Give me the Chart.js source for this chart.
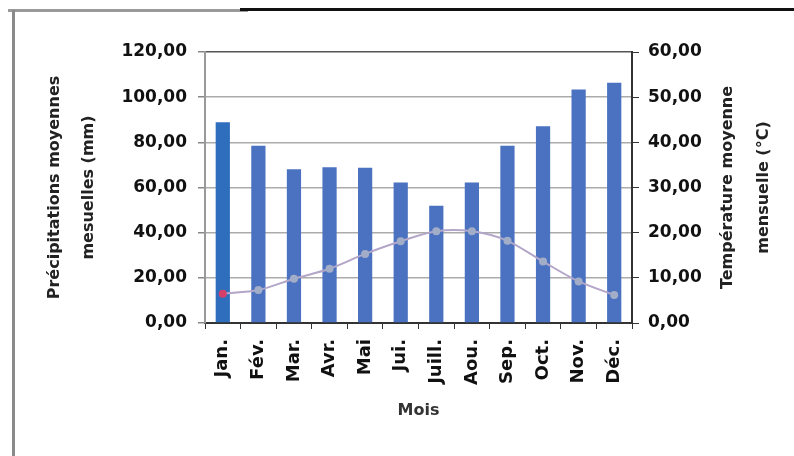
<!DOCTYPE html>
<html>
<head>
<meta charset="utf-8">
<script src="https://cdn.jsdelivr.net/npm/chart.js@4/dist/chart.umd.min.js"></script>
<style>
    html, body { margin: 0; padding: 0; background: #fff; }
    #wrap { position: relative; width: 794px; height: 456px; overflow: hidden; }
    #chart { position: absolute; left: 0; top: 0; }
    .frame { position: absolute; }
</style>
</head>
<body>
<div id="wrap">
    <canvas id="chart" width="794" height="456"></canvas>
    <div class="frame" style="left:8px;top:9px;width:240px;height:3px;background:#9a9a9a"></div>
    <div class="frame" style="left:240px;top:8px;width:554px;height:3px;background:#111"></div>
    <div class="frame" style="left:12px;top:10px;width:3px;height:446px;background:#8a8a8a"></div>
</div>
<script>
const months = ['Jan.', 'Fév.', 'Mar.', 'Avr.', 'Mai', 'Jui.', 'Juill.', 'Aou.', 'Sep.', 'Oct.', 'Nov.', 'Déc.'];
const precipitation = [88.9, 78.5, 68.1, 69.0, 68.8, 62.2, 51.9, 62.2, 78.5, 87.1, 103.4, 106.4];
const temperature = [6.5, 7.3, 9.8, 12.0, 15.3, 18.1, 20.3, 20.3, 18.2, 13.6, 9.2, 6.2];
const leftTitle = ['Précipitations moyennes', 'mesuelles (mm)'];
const rightTitle = ['Température moyenne', 'mensuelle (°C)'];
const xTitle = 'Mois';

const FONT = 'DejaVu Sans';

function fmt(v) {
    return Number(v).toFixed(2).replace('.', ',');
}

// right axis title reads bottom-to-top, Chart.js draws it the other way
const rightTitlePlugin = {
    id: 'rightTitle',
    afterDraw(chart) {
        const ctx = chart.ctx;
        const area = chart.chartArea;
        const cy = (area.top + area.bottom) / 2;
        ctx.save();
        ctx.font = 'bold 16px "' + FONT + '"';
        ctx.fillStyle = '#222';
        ctx.textAlign = 'center';
        ctx.textBaseline = 'middle';
        const xs = [728, 764];
        rightTitle.forEach((line, i) => {
            ctx.save();
            ctx.translate(xs[i], cy);
            ctx.rotate(-Math.PI / 2);
            ctx.fillText(line, 0, 0);
            ctx.restore();
        });
        ctx.restore();
    }
};

const barColors = precipitation.map((v, i) => i === 0 ? '#2f6dbd' : '#4a72c0');
const pointColors = temperature.map((v, i) => i === 0 ? '#d4406a' : '#a2adc8');

new Chart(document.getElementById('chart'), {
    type: 'bar',
    data: {
        labels: months,
        datasets: [{
            type: 'line',
            label: 'Température',
            data: temperature,
            yAxisID: 'y1',
            borderColor: '#b3a6c8',
            borderWidth: 2,
            pointRadius: 3,
            pointBackgroundColor: pointColors,
            pointBorderColor: pointColors,
            tension: 0.3,
            order: 0
        }, {
            label: 'Précipitations',
            data: precipitation,
            yAxisID: 'y',
            backgroundColor: barColors,
            barPercentage: 0.4,
            categoryPercentage: 1,
            order: 1
        }]
    },
    options: {
        responsive: false,
        animation: false,
        layout: { padding: { left: 0, right: 0, top: 52, bottom: 0 } },
        plugins: {
            legend: { display: false },
            tooltip: { enabled: false }
        },
        scales: {
            x: {
                afterFit: s => { s.height = 133; },
                grid: {
                    drawOnChartArea: false,
                    drawTicks: true,
                    tickLength: 6,
                    color: '#333'
                },
                border: { color: '#333', width: 2 },
                ticks: {
                    minRotation: 90,
                    maxRotation: 90,
                    padding: 10,
                    color: '#111',
                    font: { family: FONT, size: 18, weight: 'bold' }
                },
                title: {
                    display: true,
                    text: xTitle,
                    color: '#333',
                    font: { family: FONT, size: 16, weight: 'bold' },
                    padding: { top: 0, bottom: 36 }
                }
            },
            y: {
                position: 'left',
                min: 0,
                max: 120,
                afterFit: s => { s.width = 205; },
                grid: {
                    color: ctx => ctx.tick && ctx.tick.value === 120 ? '#555' : '#ababab',
                    lineWidth: 1.5,
                    tickLength: 7,
                    tickColor: '#888'
                },
                border: { color: '#999', width: 2 },
                ticks: {
                    stepSize: 20,
                    padding: 11,
                    color: '#111',
                    callback: v => fmt(v),
                    font: { family: FONT, size: 17, weight: 'bold' }
                },
                title: {
                    display: true,
                    text: leftTitle,
                    color: '#222',
                    font: { family: FONT, size: 16, weight: 'bold', lineHeight: 2.125 },
                    padding: { top: 38, bottom: 0 }
                }
            },
            y1: {
                position: 'right',
                min: 0,
                max: 60,
                afterFit: s => { s.width = 162; },
                grid: {
                    drawOnChartArea: false,
                    tickLength: 7,
                    tickColor: '#333'
                },
                border: { color: '#333', width: 2 },
                ticks: {
                    stepSize: 10,
                    padding: 9,
                    color: '#111',
                    callback: v => fmt(v),
                    font: { family: FONT, size: 17, weight: 'bold' }
                }
            }
        }
    },
    plugins: [rightTitlePlugin]
});
</script>
</body>
</html>
